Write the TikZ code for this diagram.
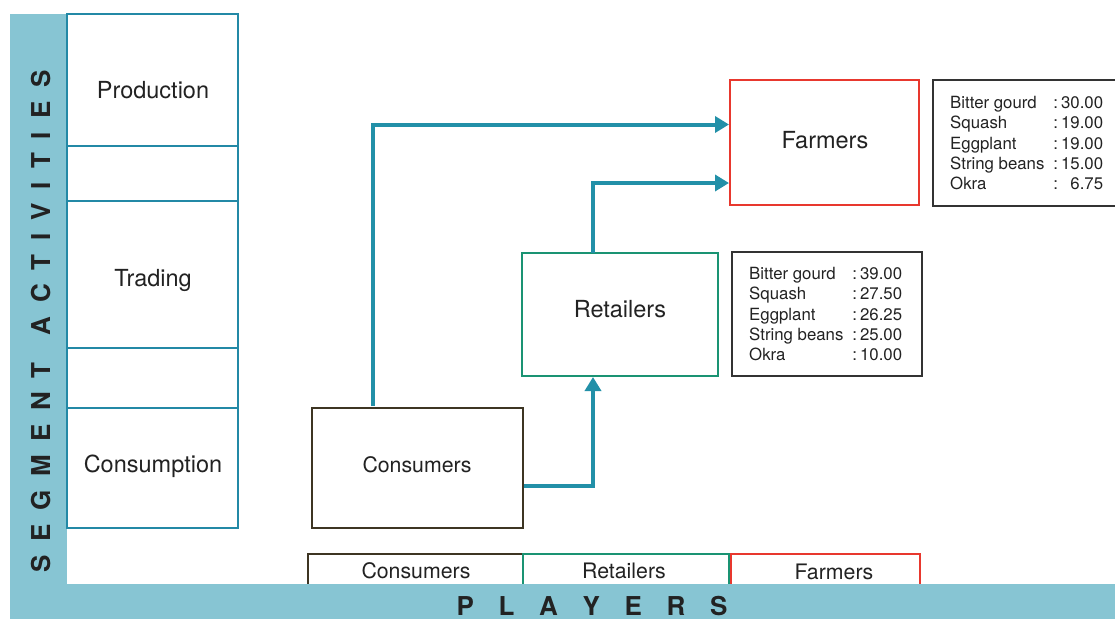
\documentclass[tikz,border=0pt]{standalone}
\usepackage{fontspec}
\setmainfont{TeX Gyre Heros}
\usetikzlibrary{arrows.meta}
\definecolor{band}{HTML}{87C5D3}
\definecolor{colline}{HTML}{2389A6}
\definecolor{flow}{HTML}{2290A8}
\definecolor{farmred}{HTML}{E8382E}
\definecolor{retgreen}{HTML}{1A9373}
\definecolor{conbrown}{HTML}{3D3523}
\definecolor{infoline}{HTML}{333333}
\definecolor{ink}{HTML}{222222}
\tikzset{
  colbox/.style={draw=colline, line width=1.8pt, minimum width=171, inner sep=0pt},
  player/.style={draw=#1, line width=2pt, fill=white, inner sep=0pt},
  bigtext/.style={font=\fontsize{23.5}{28}\selectfont, text=ink},
  midtext/.style={font=\fontsize{21.3}{26}\selectfont, text=ink},
  info/.style={draw=infoline, line width=1.3pt, inner sep=0pt, text=ink},
  infotext/.style={font=\fontsize{16.8}{20.3}\selectfont, text=ink, inner sep=0pt},
  flowarrow/.style={draw=flow, line width=4pt, -{Triangle[length=14pt,width=16pt]}},
  bandtext/.style={font=\fontsize{26}{30}\bfseries\selectfont, text=ink, inner sep=0pt}
}
\newcommand{\pricelist}[5]{%
  \begin{tabular}{@{}l@{\hspace{9pt}}l@{\hspace{3pt}}r@{}}
  Bitter gourd & : & #1\\
  Squash & : & #2\\
  Eggplant & : & #3\\
  String beans & : & #4\\
  Okra & : & #5
  \end{tabular}}
\begin{document}
\begin{tikzpicture}[x=1pt,y=-1pt]
\useasboundingbox (0,0) rectangle (1115,619);

% bands for the two axes
\fill[band] (10,14) rectangle (67,619);

% activity column
\node[colbox, minimum height=132] (prodbox) at (152.5,80) {};
\node[colbox, minimum height=55] (gap1) at (152.5,173.5) {};
\node[colbox, minimum height=147] (tradbox) at (152.5,274.5) {};
\node[colbox, minimum height=60] (gap2) at (152.5,378) {};
\node[colbox, minimum height=120] (consbox) at (152.5,468) {};
\node[bigtext] (prodlbl) at (153,90) {Production};
\node[bigtext] (tradlbl) at (153,280) {Trading};
\node[bigtext] (conslbl) at (153,466) {Consumption};

% players along the bottom, cut by the band
\node[player=conbrown, minimum width=215, minimum height=40, anchor=north west] (pcons) at (307,553) {};
\node[player=retgreen, minimum width=206, minimum height=40, anchor=north west] (pret) at (522,553) {};
\node[player=farmred, minimum width=189, minimum height=40, anchor=north west] (pfarm) at (730,553) {};
\node[midtext] (pconslbl) at (416,571) {Consumers};
\node[midtext] (pretlbl) at (624,571) {Retailers};
\node[midtext] (pfarmlbl) at (834,572) {Farmers};

\fill[band] (10,584) rectangle (1115,619);

% axis titles
\node[bandtext, rotate=90] (segtitle) at (41,321)
  {\hbox to 502pt{S\hfill E\hfill G\hfill M\hfill E\hfill N\hfill T\hfill\hfill A\hfill C\hfill T\hfill I\hfill V\hfill I\hfill T\hfill I\hfill E\hfill S}};
\node[bandtext] (plytitle) at (592,606)
  {\hbox to 271pt{P\hfill L\hfill A\hfill Y\hfill E\hfill R\hfill S}};

% marketing chain
\node[player=farmred, minimum width=189, minimum height=125] (farm) at (824.5,142.5) {};
\node[player=retgreen, minimum width=196, minimum height=123] (ret) at (620,314.5) {};
\node[player=conbrown, minimum width=211, minimum height=120] (cons) at (417.5,468) {};
\node[bigtext] (farmlbl) at (825,140) {Farmers};
\node[bigtext] (retlbl) at (620,309) {Retailers};
\node[midtext] (conslbl2) at (417,465) {Consumers};

% price lists
\node[info, minimum width=185, minimum height=126] (farminfo) at (1025.5,143) {};
\node[infotext, anchor=north west] (farmprice) at (950,94) {\pricelist{30.00}{19.00}{19.00}{15.00}{\phantom{0}6.75}};
\node[info, minimum width=190, minimum height=124] (retinfo) at (827,314) {};
\node[infotext, anchor=north west] (retprice) at (749,265) {\pricelist{39.00}{27.50}{26.25}{25.00}{10.00}};

% flows
\coordinate (c1) at (373,406);
\coordinate (r1) at (593,253);
\draw[flowarrow] (c1) |- ([yshift=18pt]farm.west);
\draw[flowarrow] (r1) |- ([yshift=-40.5pt]farm.west);
\draw[flowarrow] ([yshift=-18pt]cons.east) -| (ret.south -| r1);
\end{tikzpicture}
\end{document}
